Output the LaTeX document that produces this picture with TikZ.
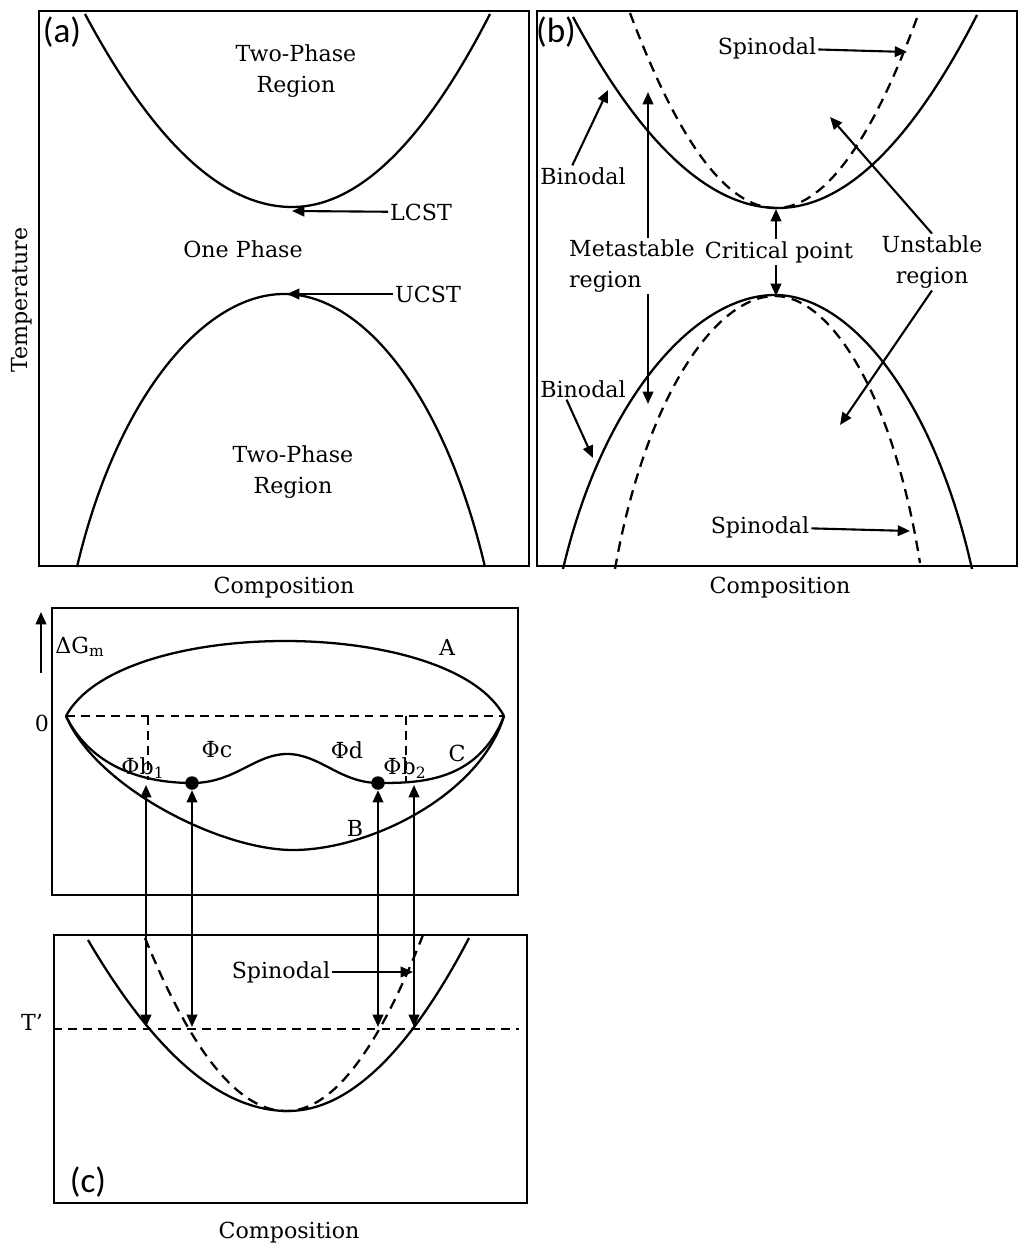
\documentclass[tikz,border=0pt]{standalone}
\usepackage{fontspec}
\setmainfont{DejaVu Serif}
\setsansfont{Carlito}
\usetikzlibrary{arrows.meta}

\begin{document}
\begin{tikzpicture}[
  x=0.02cm, y=-0.02cm,
  every node/.style={font=\fontsize{12.6}{17.6}\selectfont, inner sep=1pt},
  tag/.style={font=\sffamily\fontsize{20}{22}\selectfont},
  frame/.style={line width=1.5pt},
  thinframe/.style={line width=0.7pt},
  curve/.style={line width=1.3pt},
  spin/.style={curve, dash pattern=on 6pt off 4pt},
  guide/.style={line width=1.2pt, dash pattern=on 5pt off 3.5pt},
  arr/.style={-{Triangle[length=7pt,width=6pt]}, line width=1.2pt},
  arrs/.style={{Triangle[length=7pt,width=6pt]}-{Triangle[length=7pt,width=6pt]}, line width=1.2pt},
  dot/.style={circle, fill, inner sep=0pt, minimum size=0.27cm},
]
  \useasboundingbox (0,0) rectangle (1019,1247);

  % Panel (a)
  \draw[frame] (39,11) rectangle (529,566);
  \node[tag] (taga) at (62,32) {(a)};
  \draw[curve] (85,14) .. controls (154,143) and (223,207) .. (292,207)
                      .. controls (358,207) and (424,143) .. (490,14);
  \draw[curve] (77,567) .. controls (117,397) and (204,294) .. (284,294)
                      .. controls (364,294) and (445,397) .. (485,567);
  \node[align=center] (twoup) at (296,71) {Two-Phase\\Region};
  \node (onephase) at (243,249) {One Phase};
  \node[align=center] (twolo) at (293,472) {Two-Phase\\Region};
  \node (lcst) at (421,212) {LCST};
  \node (ucst) at (428,294) {UCST};
  \coordinate (lcstpt) at (292,211);
  \coordinate (ucstpt) at (287,294);
  \draw[arr] (lcst) -- (lcstpt);
  \draw[arr] (ucst) -- (ucstpt);
  \node[rotate=90] (temp) at (22,300) {Temperature};
  \node (compa) at (284,588) {Composition};

  % Panel (b)
  \draw[frame] (537,11) rectangle (1017,566);
  \node[tag] (tagb) at (556,32) {(b)};
  \draw[curve] (573,17) .. controls (641,144) and (710,208) .. (778,208)
                       .. controls (844,208) and (911,144) .. (977,15);
  \draw[spin] (630,13) .. controls (679,143) and (727,208) .. (776,208)
                      .. controls (823,208) and (871,144) .. (918,15);
  \draw[curve] (563,569) .. controls (603,399) and (695,295) .. (775,295)
                       .. controls (851,295) and (934,399) .. (972,569);
  \draw[spin] (615,569) .. controls (645,399) and (715,296) .. (775,296)
                      .. controls (830,296) and (893,393) .. (920,563);

  % labels (b)
  \node (spin1) at (767,48) {Spinodal};
  \coordinate (spin1pt) at (907,52);
  \draw[arr] (spin1) -- (spin1pt);
  \node (bin1) at (583,176) {Binodal};
  \coordinate (bin1pt) at (608,90);
  \draw[arr] (bin1.135) -- (bin1pt);
  \node[anchor=west, align=left] (meta) at (567,266) {Metastable\\region};
  \coordinate (metaup) at (648,92);
  \coordinate (metadn) at (648,404);
  \draw[arr] (meta.north -| metaup) -- (metaup);
  \draw[arr] (meta.south -| metadn) -- (metadn);
  \node (crit) at (779,252) {Critical point};
  \coordinate (critup) at (776,209);
  \coordinate (critlo) at (776,296);
  \draw[arr] (crit.north -| critup) -- (critup);
  \draw[arr] (crit.south -| critlo) -- (critlo);
  \node[align=center] (unst) at (932,262) {Unstable\\region};
  \coordinate (unstup) at (830,117);
  \coordinate (unstdn) at (840,425);
  \draw[arr] (unst.north) -- (unstup);
  \draw[arr] (unst.south) -- (unstdn);
  \node (bin2) at (583,389) {Binodal};
  \coordinate (bin2pt) at (593,458);
  \draw[arr] (bin2.213) -- (bin2pt);
  \node (spin2) at (760,527) {Spinodal};
  \coordinate (spin2pt) at (910,531);
  \draw[arr] (spin2) -- (spin2pt);
  \node (compb) at (780,588) {Composition};

  % Panel (c), free energy
  \draw[thinframe] (52,608) rectangle (518,895);
  \coordinate (dgbot) at (41,673);
  \coordinate (dgtop) at (41,612);
  \draw[arr] (dgbot) -- (dgtop);
  \node (dg) at (80,647) {ΔG\textsubscript{m}};
  \node (zero) at (42,723) {0};
  \coordinate (zl) at (66,716);
  \coordinate (zr) at (504,716);
  \draw[curve] (zl) .. controls (120,616) and (450,616) .. (zr);
  \draw[guide] (zl) -- (zr);
  % curve C
  \draw[curve] (zl) .. controls (90,765) and (140,783) .. (192,783)
                    .. controls (235,783) and (255,754) .. (287,754)
                    .. controls (320,754) and (340,783) .. (379,783)
                    .. controls (420,783) and (478,782) .. (zr);
  % curve B
  \draw[curve] (zl) .. controls (96,787) and (220,850) .. (293,850)
                    .. controls (370,850) and (480,795) .. (zr);
  \coordinate (v1t) at (148,716);
  \coordinate (v1b) at (148,780);
  \coordinate (v2t) at (406,716);
  \coordinate (v2b) at (406,782);
  \draw[guide] (v1t) -- (v1b);
  \draw[guide] (v2t) -- (v2b);
  \node (ga) at (447,647) {A};
  \node (gb) at (355,828) {B};
  \node (gc) at (457,753) {C};
  \node (phib1) at (143,768) {Φb\textsubscript{1}};
  \node (phic) at (217,750) {Φc};
  \node (phid) at (347,750) {Φd};
  \node (phib2) at (405,768) {Φb\textsubscript{2}};
  \node[dot] (pc) at (192,783) {};
  \node[dot] (pd) at (378,783) {};

  % Panel (c), phase diagram
  \draw[frame] (54,935) rectangle (527,1203);
  \node (tprime) at (32,1022) {T’};
  \coordinate (tl) at (53,1029);
  \coordinate (tr) at (519,1029);
  \draw[guide] (tl) -- (tr);
  \draw[curve] (88,940) .. controls (155,1054) and (221,1111) .. (288,1111)
                      .. controls (348,1111) and (409,1053) .. (469,938);
  \draw[spin] (145,938) .. controls (192,1053) and (239,1111) .. (286,1111)
                      .. controls (332,1111) and (377,1052) .. (423,935);
  \node (spin3) at (281,972) {Spinodal};
  \coordinate (spin3pt) at (413,972);
  \draw[arr] (spin3) -- (spin3pt);

  % tie lines between the panels
  \coordinate (b1top) at (146,785);
  \coordinate (b2top) at (414,785);
  \coordinate (b1bot) at (146,1027);
  \coordinate (cbot) at (192,1027);
  \coordinate (dbot) at (378,1027);
  \coordinate (b2bot) at (414,1027);
  \draw[arrs] (b1top) -- (b1bot);
  \draw[arrs] (pc) -- (cbot);
  \draw[arrs] (pd) -- (dbot);
  \draw[arrs] (b2top) -- (b2bot);

  \node[tag] (tagc) at (88,1182) {(c)};
  \node (compc) at (289,1233) {Composition};
\end{tikzpicture}
\end{document}
